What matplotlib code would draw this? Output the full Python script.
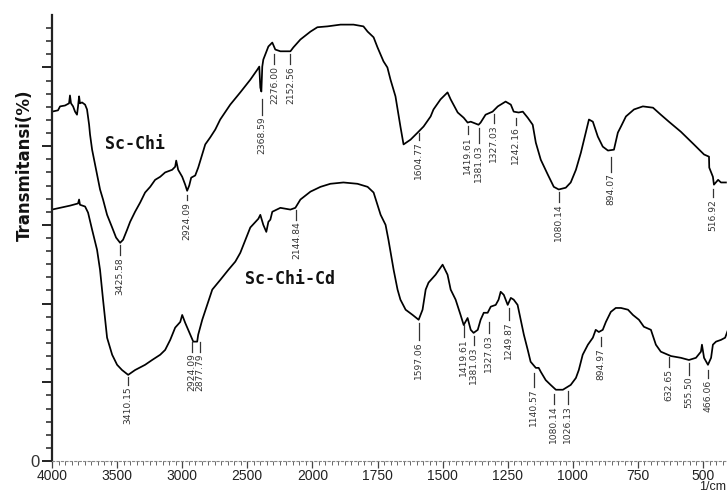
import numpy as np
import matplotlib
matplotlib.use("Agg")
import matplotlib.pyplot as plt

# ---------------- data ----------------
# Sc-Chi spectrum: wavenumber (1/cm) and transmittance (%)
chi_wn = [4000, 3954, 3938, 3900, 3869, 3862, 3854, 3838, 3823, 3808, 3800, 3792, 3785, 3769,
          3746, 3731, 3715, 3708, 3692, 3669, 3654, 3631, 3608, 3577, 3538, 3508, 3477, 3454,
          3423, 3400, 3362, 3323, 3285, 3246, 3208, 3169, 3131, 3077, 3054, 3046, 3031, 3000,
          2977, 2962, 2946, 2931, 2900, 2877, 2846, 2823, 2785, 2746, 2708, 2631, 2554, 2477,
          2423, 2408, 2400, 2392, 2385, 2377, 2338, 2308, 2285, 2246, 2169, 2146, 2092, 2015,
          1981, 1942, 1892, 1842, 1804, 1788, 1765, 1750, 1727, 1712, 1700, 1681, 1662, 1650,
          1623, 1596, 1573, 1546, 1535, 1508, 1481, 1469, 1442, 1419, 1404, 1392, 1362, 1354,
          1335, 1308, 1288, 1258, 1238, 1227, 1208, 1192, 1173, 1154, 1142, 1123, 1096, 1073,
          1054, 1027, 1008, 988, 969, 950, 938, 923, 904, 885, 865, 842, 827, 815, 796, 765,
          731, 692, 662, 631, 585, 535, 496, 477, 476, 462, 458, 442, 431, 412]
chi_t = [79.9, 80.2, 81.1, 81.3, 81.8, 83.6, 81.8, 81.1, 79.9, 79.2, 81.1, 83.4, 81.8, 82.0,
         81.5, 80.4, 76.9, 74.7, 71.2, 67.8, 65.5, 62.1, 59.8, 56.3, 53.4, 51.1, 49.9, 50.6,
         52.9, 54.7, 57.0, 59.1, 61.4, 62.7, 64.3, 65.0, 66.0, 66.6, 67.3, 68.7, 66.6, 65.0,
         63.2, 61.8, 63.0, 64.8, 65.3, 67.1, 70.1, 72.4, 74.0, 75.8, 78.1, 81.5, 84.3, 87.2,
         89.5, 90.2, 85.4, 84.5, 90.2, 91.8, 94.8, 95.7, 94.1, 93.7, 93.7, 94.6, 96.4, 98.2,
         99.2, 99.4, 99.8, 99.8, 99.4, 98.2, 96.9, 94.6, 91.4, 90.0, 87.2, 83.4, 76.5, 72.4,
         73.5, 75.1, 76.5, 78.8, 80.4, 82.7, 84.3, 82.7, 79.7, 78.5, 77.4, 77.6, 76.9, 77.4,
         79.2, 79.9, 81.1, 82.2, 81.5, 79.9, 79.7, 79.9, 78.5, 76.9, 72.8, 68.9, 65.5, 62.7,
         62.1, 62.5, 63.7, 66.6, 70.5, 75.1, 78.1, 77.6, 74.2, 71.9, 71.0, 71.2, 75.1, 76.5,
         78.8, 80.4, 81.1, 80.8, 79.2, 77.6, 75.3, 72.4, 70.1, 69.6, 67.1, 65.0, 63.2, 64.3,
         63.7, 63.7]

# Sc-Chi-Cd spectrum
cd_wn = [4000, 3938, 3862, 3800, 3792, 3785, 3746, 3723, 3692, 3654, 3631, 3608, 3577, 3538,
         3500, 3462, 3415, 3362, 3285, 3231, 3169, 3131, 3092, 3054, 3015, 3000, 2977, 2938,
         2915, 2885, 2877, 2846, 2808, 2769, 2708, 2646, 2592, 2554, 2477, 2415, 2400, 2377,
         2354, 2338, 2323, 2308, 2246, 2169, 2131, 2092, 2015, 1969, 1931, 1881, 1827, 1788,
         1765, 1750, 1738, 1719, 1708, 1688, 1673, 1662, 1642, 1615, 1592, 1577, 1565, 1554,
         1527, 1500, 1481, 1469, 1450, 1431, 1419, 1404, 1392, 1381, 1365, 1354, 1342, 1327,
         1315, 1296, 1285, 1277, 1265, 1250, 1238, 1227, 1212, 1200, 1188, 1173, 1162, 1142,
         1131, 1123, 1104, 1085, 1065, 1038, 1027, 1008, 988, 977, 962, 942, 923, 912, 900,
         885, 873, 854, 835, 815, 788, 769, 746, 727, 700, 681, 662, 623, 585, 554, 527, 508,
         504, 496, 481, 469, 462, 450, 431, 415, 404]
cd_t = [57.5, 57.9, 58.4, 58.9, 59.8, 58.6, 58.2, 56.8, 52.9, 48.3, 43.7, 36.9, 28.2, 24.3,
        22.0, 20.8, 19.7, 20.8, 22.0, 23.1, 24.3, 25.4, 27.7, 30.5, 31.8, 33.4, 31.6, 28.9,
        27.3, 27.3, 28.9, 32.3, 35.7, 39.2, 41.4, 43.7, 45.6, 47.6, 53.4, 55.4, 56.3, 54.0,
        52.4, 54.7, 55.2, 57.0, 57.9, 57.5, 57.9, 59.8, 61.6, 62.7, 63.4, 63.7, 63.4, 62.7,
        61.4, 58.6, 56.3, 54.0, 50.6, 43.7, 39.2, 36.9, 34.6, 33.4, 32.3, 34.6, 39.2, 40.8,
        42.6, 44.9, 42.6, 39.2, 36.9, 33.4, 31.1, 32.7, 30.0, 29.3, 30.0, 32.3, 33.9, 33.9,
        35.3, 35.7, 36.9, 38.7, 38.0, 35.7, 37.3, 36.9, 35.7, 32.3, 28.9, 25.4, 22.7, 21.3,
        21.3, 20.4, 18.5, 17.4, 16.3, 16.3, 16.7, 17.4, 19.0, 20.8, 24.3, 26.6, 28.2, 30.0, 29.5,
        30.0, 31.8, 34.1, 35.0, 35.0, 34.6, 33.4, 32.3, 30.7, 30.0, 26.6, 25.0, 24.0, 23.6, 23.1, 23.6, 25.0,
        26.6, 23.6, 22.0, 23.6, 26.6, 27.3, 27.7, 28.2, 30.0]

# peak annotations: label text, position (1/cm), leader top / bottom (%T)
chi_peak_text = ["3425.58", "2924.09", "2368.59", "2276.00", "2152.56", "1604.77", "1419.61",
                 "1381.03", "1327.03", "1242.16", "1080.14", "894.07", "516.92"]
chi_peak_pos = [3477, 2962, 2385, 2292, 2169, 1592, 1404, 1362, 1304, 1219, 1054, 854, 462]
chi_peak_top = [49.5, 60.9, 82.7, 93.0, 93.0, 74.9, 76.6, 76.1, 79.4, 78.5, 61.6, 69.6, 62.1]
chi_peak_bot = [47.0, 59.6, 79.2, 90.7, 90.7, 73.5, 74.7, 72.8, 77.4, 76.9, 59.3, 66.2, 60.4]

cd_peak_text = ["3410.15", "2924.09", "2877.79", "2144.84", "1597.06", "1419.61", "1381.03",
                "1327.03", "1249.87", "1140.57", "1080.14", "1026.13", "894.97", "632.65",
                "555.50", "466.06"]
cd_peak_pos = [3415, 2923, 2862, 2123, 1592, 1419, 1381, 1323, 1246, 1150, 1073, 1019, 892,
               631, 554, 481]
cd_peak_top = [19.2, 27.3, 27.3, 57.5, 31.6, 31.1, 28.6, 31.8, 35.0, 20.2, 15.3, 16.0, 28.4,
               23.8, 22.4, 20.8]
cd_peak_bot = [17.4, 25.0, 25.0, 55.2, 27.7, 28.4, 26.6, 29.3, 32.3, 17.0, 13.1, 13.1, 26.3,
               21.5, 19.7, 19.0]

major_ticks = [4000, 3500, 3000, 2500, 2000, 1750, 1500, 1250, 1000, 750, 500]
series_names = ["Sc-Chi", "Sc-Chi-Cd"]


# ---------------- piecewise wavenumber scale (break at 2000) ----------------
def fwd(w):
    w = np.asarray(w, dtype=float)
    return np.where(w >= 2000, (w - 4000.0) / 500.0, (w - 2000.0) / 250.0 - 4.0)


def inv(p):
    p = np.asarray(p, dtype=float)
    return np.where(p >= -4, 4000.0 + p * 500.0, 2000.0 + (p + 4.0) * 250.0)


fig = plt.figure(figsize=(7.27, 4.93), dpi=100)
ax = fig.add_axes([52 / 727, 32 / 493, 676 / 727, 446 / 493])
ax.set_xscale("function", functions=(fwd, inv))

ax.plot(chi_wn, chi_t, color="black", lw=1.25, solid_joinstyle="round")
ax.plot(cd_wn, cd_t, color="black", lw=1.25, solid_joinstyle="round")

label_font = ["Liberation Sans Narrow", "DejaVu Sans"]
for txts, pos, top, bot in [(chi_peak_text, chi_peak_pos, chi_peak_top, chi_peak_bot),
                            (cd_peak_text, cd_peak_pos, cd_peak_top, cd_peak_bot)]:
    for s, x, a, b in zip(txts, pos, top, bot):
        ax.plot([x, x], [a, b], color="#333333", lw=0.9)
        ax.text(x, b - 0.4, s, rotation=90, ha="center", va="top", fontsize=6.6,
                color="#333333", family=label_font)

ax.text(3362, 72.6, series_names[0], ha="center", va="center", fontsize=12,
        fontweight="bold", family=["DejaVu Sans Mono"], color="#111111")
ax.text(2169, 41.7, series_names[1], ha="center", va="center", fontsize=12,
        fontweight="bold", family=["DejaVu Sans Mono"], color="#111111")

ax.set_xlim(4000, 404)
ax.set_ylim(0, 102)

ax.set_xticks(major_ticks)
ax.set_xticklabels([str(t) for t in major_ticks])
minor = list(np.arange(2050, 4000, 50)) + list(np.arange(425, 2000, 25))
ax.set_xticks([m for m in minor if m not in major_ticks], minor=True)

ax.set_yticks(np.arange(0, 102, 18))
ax.set_yticklabels(["0"] + [""] * 5)
ax.set_yticks(np.arange(0, 102, 3), minor=True)

for lab in ax.get_xticklabels():
    lab.set_family(["Liberation Sans", "DejaVu Sans"])
    lab.set_fontsize(10)
    lab.set_color("#222222")
for lab in ax.get_yticklabels():
    lab.set_family(["Liberation Sans", "DejaVu Sans"])
    lab.set_fontsize(12)
    lab.set_color("#333333")

ax.tick_params(axis="x", which="major", direction="out", length=5, width=0.9,
               color="#444444", pad=1)
ax.tick_params(axis="x", which="minor", direction="out", length=3, width=0.7,
               color="#666666")
ax.tick_params(axis="y", which="major", direction="out", length=7, width=1.4,
               color="#222222", pad=2)
ax.tick_params(axis="y", which="minor", direction="out", length=4, width=1.2,
               color="#333333")

for side in ["top", "right"]:
    ax.spines[side].set_visible(False)
ax.spines["left"].set_linewidth(1.6)
ax.spines["left"].set_color("#222222")
ax.spines["bottom"].set_linewidth(0.8)
ax.spines["bottom"].set_color("#888888")
ax.spines["bottom"].set_linestyle((0, (2, 2)))

fig.text(25 / 727, 1 - 165 / 493, "Transmitansi(%)", rotation=90, ha="center",
         va="center", fontsize=12, fontweight="bold",
         family=["Liberation Sans Narrow", "DejaVu Sans"], color="#111111")
fig.text(726 / 727, 2.5 / 493, "1/cm", ha="right", va="baseline", fontsize=9,
         family=["Liberation Sans", "DejaVu Sans"], color="#222222")

fig.savefig("out.png", dpi=100)
